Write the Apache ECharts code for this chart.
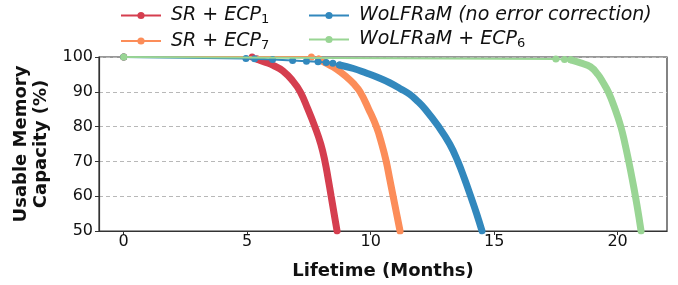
<!DOCTYPE html>
<html>
<head>
<meta charset="utf-8">
<script src="https://cdn.jsdelivr.net/npm/echarts@6/dist/echarts.min.js"></script>
<style>
  html, body { margin: 0; padding: 0; background: #fff; }
  #chart { width: 678px; height: 285px; }
</style>
</head>
<body>
<div id="chart"></div>
<script>
// lifetime in months / usable memory capacity in %
const srEcp1X = [0, 5.2, 5.4, 5.7, 6.05, 6.45, 6.86, 7.15, 7.46, 7.74, 7.98, 8.15, 8.28, 8.4, 8.52, 8.64];
const srEcp1Y = [100, 100, 99.4, 98.6, 97.6, 96.0, 93.0, 90, 85, 80, 75, 70, 65, 60, 55, 50];

const srEcp7X = [0, 7.6, 7.9, 8.2, 8.6, 9.02, 9.3, 9.57, 9.92, 10.23, 10.45, 10.63, 10.77, 10.91, 11.05, 11.19];
const srEcp7Y = [100, 100, 99.4, 98.2, 96.6, 94.3, 92.4, 90, 85, 80, 75, 70, 65, 60, 55, 50];

const wolfX = [0, 4.95, 5.3, 6.03, 6.84, 7.4, 7.87, 8.2, 8.47, 8.74, 9.3, 9.82, 10.3, 10.77, 11.2, 11.58, 11.9, 12.21, 12.75, 13.2, 13.53, 13.8, 14.05, 14.29, 14.51];
const wolfY = [100, 99.6, 99.5, 99.3, 99.0, 98.8, 98.6, 98.4, 98.2, 97.7, 96.7, 95.4, 94.1, 92.6, 90.9, 89.3, 87.3, 85, 80, 75, 70, 65, 60, 55, 50];

const wolfEcp6X = [0, 17.5, 17.85, 18.1, 18.5, 18.9, 19.2, 19.4, 19.62, 19.9, 20.13, 20.3, 20.45, 20.59, 20.72, 20.84, 20.95];
const wolfEcp6Y = [100, 99.4, 99.3, 99.2, 98.3, 97.2, 95.0, 92.8, 90, 85, 80, 75, 70, 65, 60, 55, 50];

const xTicks = [0, 5, 10, 15, 20];

// split = index where the sparse plateau part ends and the dense drop begins
const curves = [
  { name: 'SR + ECP1', x: srEcp1X, y: srEcp1Y, split: 2, color: '#d53e4f' },
  { name: 'SR + ECP7', x: srEcp7X, y: srEcp7Y, split: 2, color: '#fc8d59' },
  { name: 'WoLFRaM', x: wolfX, y: wolfY, split: 9, color: '#3288bd' },
  { name: 'WoLFRaM + ECP6', x: wolfEcp6X, y: wolfEcp6Y, split: 3, color: '#99d594' },
];

const toPairs = (xs, ys) => xs.map((v, i) => [v, ys[i]]);

const series = [];
curves.forEach((c, k) => {
  const pts = toPairs(c.x, c.y);
  // sparse part: thin line with markers
  series.push({
    name: c.name,
    type: 'line',
    data: pts.slice(0, c.split + 1),
    symbol: 'circle',
    symbolSize: 7,
    showSymbol: true,
    itemStyle: { color: c.color },
    lineStyle: { color: c.color, width: 2 },
    z: 2 + k * 2,
  });
  // dense part: markers overlap into a thick band
  series.push({
    name: c.name,
    type: 'line',
    data: pts.slice(c.split),
    smooth: 0.45,
    symbol: 'none',
    itemStyle: { color: c.color },
    lineStyle: { color: c.color, width: 7, cap: 'round' },
    z: 3 + k * 2,
  });
});

const rich = {
  i: { fontFamily: 'DejaVu Sans', fontStyle: 'italic', fontSize: 19, color: '#111' },
  r: { fontFamily: 'DejaVu Sans', fontSize: 19, color: '#111' },
  s: { fontFamily: 'DejaVu Sans', fontSize: 13, color: '#111', padding: [9, 0, 0, 0] },
};

const legendFmt = (name) => {
  if (name === 'SR + ECP1') return '{i|SR}{r| + }{i|ECP}{s|1}';
  if (name === 'SR + ECP7') return '{i|SR}{r| + }{i|ECP}{s|7}';
  if (name === 'WoLFRaM') return '{i|WoLFRaM (no error correction)}';
  return '{i|WoLFRaM}{r| + }{i|ECP}{s|6}';
};

const legendBase = {
  orient: 'vertical',
  top: 1,
  itemWidth: 40,
  itemHeight: 9,
  itemGap: 5,
  formatter: legendFmt,
  textStyle: { rich: rich, padding: [0, 0, 0, 5] },
  selectedMode: false,
};

const chart = echarts.init(document.getElementById('chart'), null, { renderer: 'canvas' });
chart.setOption({
  backgroundColor: '#fff',
  animation: false,
  textStyle: { fontFamily: 'DejaVu Sans' },
  legend: [
    Object.assign({}, legendBase, { left: 115, data: ['SR + ECP1', 'SR + ECP7'] }),
    Object.assign({}, legendBase, { left: 303, data: ['WoLFRaM', 'WoLFRaM + ECP6'] }),
  ],
  grid: {
    left: 99, right: 11, top: 57, bottom: 51,
    show: true, borderColor: '#333', borderWidth: 1.2,
  },
  xAxis: {
    type: 'value',
    min: -1,
    max: 22,
    name: 'Lifetime (Months)',
    nameLocation: 'middle',
    nameGap: 31,
    nameTextStyle: { fontFamily: 'DejaVu Sans', fontWeight: 'bold', fontSize: 18, color: '#111' },
    axisLine: { onZero: false, lineStyle: { color: '#333', width: 1.2 } },
    axisTick: { show: true, length: 4, lineStyle: { color: '#333' }, customValues: xTicks },
    axisLabel: { fontSize: 16, color: '#111', margin: 3, customValues: xTicks },
    splitLine: { show: false },
  },
  yAxis: {
    type: 'value',
    min: 50,
    max: 100,
    interval: 10,
    name: 'Usable Memory\nCapacity (%)',
    nameLocation: 'middle',
    nameGap: 46,
    nameRotate: 90,
    nameTextStyle: { fontFamily: 'DejaVu Sans', fontWeight: 'bold', fontSize: 18, lineHeight: 20, color: '#111' },
    axisLine: { show: true, onZero: false, lineStyle: { color: '#333', width: 1.2 } },
    axisTick: { show: true, length: 4, lineStyle: { color: '#333' } },
    axisLabel: { fontSize: 16, color: '#111', margin: 6 },
    splitLine: { show: true, lineStyle: { color: '#b8b8b8', type: [4, 3], width: 1 } },
  },
  series: series,
});
</script>
</body>
</html>
